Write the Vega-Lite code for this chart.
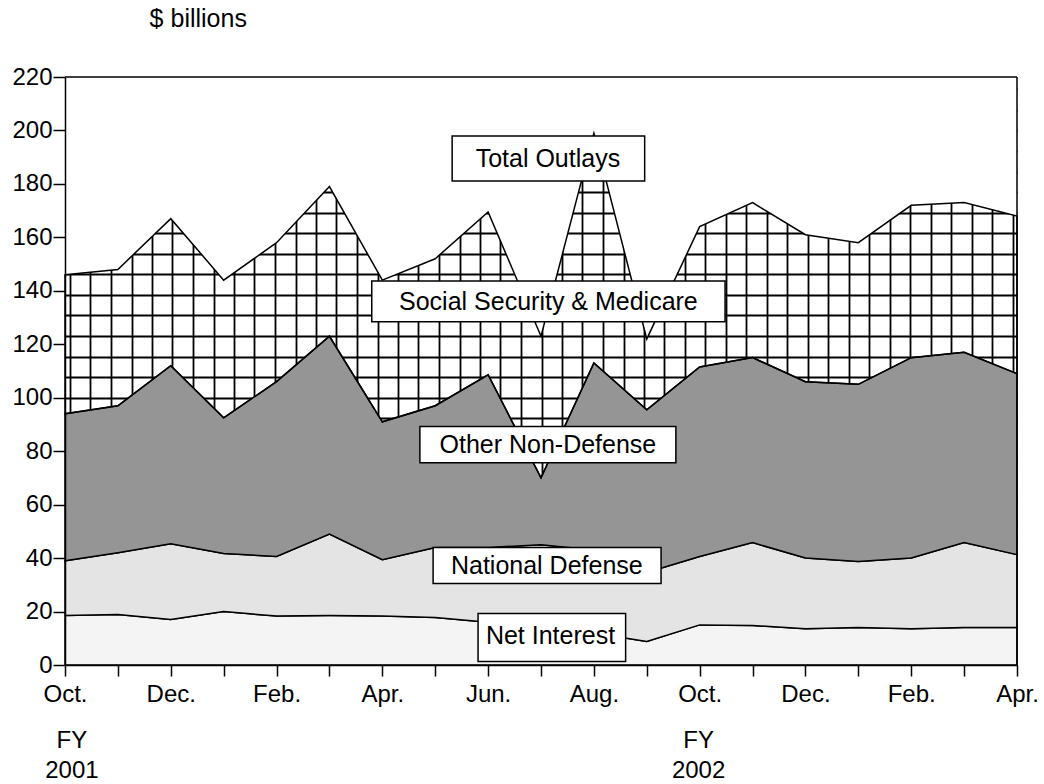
{
  "$schema": "https://vega.github.io/schema/vega-lite/v6.json",
  "width": 952,
  "height": 588,
  "autosize": {"type": "none"},
  "padding": {"left": 65, "top": 77, "right": 27, "bottom": 119},
  "background": "white",
  "config": {
    "view": {"stroke": null},
    "font": "Liberation Sans",
    "axis": {"labelFont": "Liberation Sans", "labelColor": "black", "tickColor": "black", "domainColor": "black", "titleColor": "black"},
    "text": {"font": "Liberation Sans", "color": "black"}
  },
  "data": {
    "values": [
      {"month": "Oct 2000", "m": 0, "Net Interest": 18.5, "National Defense": 20.5, "Other Non-Defense": 55, "Social Security & Medicare": 52},
      {"month": "Nov 2000", "m": 1, "Net Interest": 18.9, "National Defense": 23.1, "Other Non-Defense": 55, "Social Security & Medicare": 51},
      {"month": "Dec 2000", "m": 2, "Net Interest": 17, "National Defense": 28.4, "Other Non-Defense": 66.6, "Social Security & Medicare": 55},
      {"month": "Jan 2001", "m": 3, "Net Interest": 20, "National Defense": 21.7, "Other Non-Defense": 50.8, "Social Security & Medicare": 51.5},
      {"month": "Feb 2001", "m": 4, "Net Interest": 18.3, "National Defense": 22.3, "Other Non-Defense": 65.4, "Social Security & Medicare": 52},
      {"month": "Mar 2001", "m": 5, "Net Interest": 18.5, "National Defense": 30.5, "Other Non-Defense": 74, "Social Security & Medicare": 56},
      {"month": "Apr 2001", "m": 6, "Net Interest": 18.3, "National Defense": 21.1, "Other Non-Defense": 51.6, "Social Security & Medicare": 53},
      {"month": "May 2001", "m": 7, "Net Interest": 17.8, "National Defense": 26.2, "Other Non-Defense": 53, "Social Security & Medicare": 55},
      {"month": "Jun 2001", "m": 8, "Net Interest": 16, "National Defense": 28, "Other Non-Defense": 64.6, "Social Security & Medicare": 60.9},
      {"month": "Jul 2001", "m": 9, "Net Interest": 14, "National Defense": 31, "Other Non-Defense": 25, "Social Security & Medicare": 53},
      {"month": "Aug 2001", "m": 10, "Net Interest": 12, "National Defense": 31, "Other Non-Defense": 70, "Social Security & Medicare": 86},
      {"month": "Sep 2001", "m": 11, "Net Interest": 8.8, "National Defense": 25.8, "Other Non-Defense": 60.9, "Social Security & Medicare": 26.5},
      {"month": "Oct 2001", "m": 12, "Net Interest": 15, "National Defense": 25.6, "Other Non-Defense": 70.9, "Social Security & Medicare": 52.5},
      {"month": "Nov 2001", "m": 13, "Net Interest": 14.8, "National Defense": 31, "Other Non-Defense": 69.2, "Social Security & Medicare": 58},
      {"month": "Dec 2001", "m": 14, "Net Interest": 13.6, "National Defense": 26.4, "Other Non-Defense": 66, "Social Security & Medicare": 55},
      {"month": "Jan 2002", "m": 15, "Net Interest": 14, "National Defense": 24.7, "Other Non-Defense": 66.3, "Social Security & Medicare": 53},
      {"month": "Feb 2002", "m": 16, "Net Interest": 13.6, "National Defense": 26.4, "Other Non-Defense": 75, "Social Security & Medicare": 57},
      {"month": "Mar 2002", "m": 17, "Net Interest": 14, "National Defense": 31.8, "Other Non-Defense": 71.2, "Social Security & Medicare": 56},
      {"month": "Apr 2002", "m": 18, "Net Interest": 14, "National Defense": 27.3, "Other Non-Defense": 67.7, "Social Security & Medicare": 59}
    ]
  },
  "transform": [
    {"fold": ["Net Interest", "National Defense", "Other Non-Defense", "Social Security & Medicare"], "as": ["series", "value"]},
    {"window": [{"op": "row_number", "as": "layerOrder"}], "groupby": ["m"]}
  ],
  "resolve": {"axis": {"x": "independent", "y": "independent"}},
  "layer": [
    {
      "transform": [{"aggregate": [{"op": "sum", "field": "value", "as": "total"}], "groupby": ["m"]}],
      "mark": {"type": "area", "fill": "white", "orient": "vertical"},
      "encoding": {
        "x": {"field": "m", "type": "quantitative", "scale": {"domain": [0, 18], "nice": false, "zero": false},
          "axis": {"orient": "top", "grid": true, "gridColor": "black", "gridWidth": 1.8, "gridOpacity": 1, "labels": false, "ticks": false, "domain": false, "title": null,
            "values": [0.1, 0.48, 0.87, 1.26, 1.65, 2.03, 2.42, 2.81, 3.2, 3.58, 3.97, 4.36, 4.75, 5.13, 5.52, 5.91, 6.3, 6.68, 7.07, 7.46, 7.85, 8.23, 8.62, 9.01, 9.4, 9.78, 10.17, 10.56, 10.95, 11.33, 11.72, 12.11, 12.5, 12.88, 13.27, 13.66, 14.05, 14.43, 14.82, 15.21, 15.6, 15.98, 16.37, 16.76, 17.15, 17.53, 17.92]}},
        "y": {"field": "total", "type": "quantitative", "scale": {"domain": [0, 220], "nice": false},
          "axis": {"orient": "right", "grid": true, "gridColor": "black", "gridWidth": 1.8, "gridOpacity": 1, "labels": false, "ticks": false, "domain": false, "title": null,
            "values": [7.69, 15.38, 23.08, 30.77, 38.46, 46.15, 53.85, 61.54, 69.23, 76.92, 84.62, 92.31, 100, 107.69, 115.38, 123.08, 130.77, 138.46, 146.15, 153.85, 161.54, 169.23, 176.92, 184.62, 192.31, 200, 207.69, 215.38]}},
        "y2": {"datum": 220}
      }
    },
    {
      "mark": {"type": "area", "stroke": "black", "strokeWidth": 1.5, "orient": "vertical"},
      "encoding": {
        "x": {"field": "m", "type": "quantitative", "scale": {"domain": [0, 18], "nice": false, "zero": false},
          "axis": {"orient": "bottom", "grid": false, "values": [0, 1, 2, 3, 4, 5, 6, 7, 8, 9, 10, 11, 12, 13, 14, 15, 16, 17, 18],
            "labelExpr": "datum.value % 2 == 0 ? ['Oct.', 'Dec.', 'Feb.', 'Apr.', 'Jun.', 'Aug.'][(datum.value / 2) % 6] : ''",
            "tickSize": 11, "tickWidth": 1.5, "domainWidth": 1.5, "labelFontSize": 24, "labelPadding": 6, "labelFlush": false, "labelOverlap": false, "title": null, "zindex": 1}},
        "y": {"field": "value", "type": "quantitative", "stack": "zero", "scale": {"domain": [0, 220], "nice": false},
          "axis": {"orient": "left", "grid": false, "values": [0, 20, 40, 60, 80, 100, 120, 140, 160, 180, 200, 220],
            "tickSize": 12, "tickWidth": 1.5, "domainWidth": 1.5, "labelFontSize": 24, "labelPadding": 1, "title": null, "zindex": 1}},
        "order": {"field": "layerOrder", "type": "quantitative", "sort": "ascending"},
        "color": {"field": "series", "type": "nominal",
          "scale": {"domain": ["Net Interest", "National Defense", "Other Non-Defense", "Social Security & Medicare"], "range": ["#f4f4f4", "#e4e4e4", "#959595", "transparent"]},
          "legend": null}
      }
    },
    {
      "data": {"values": [{}]},
      "mark": {"type": "rule", "color": "black", "strokeWidth": 1.5},
      "encoding": {"y": {"datum": 220, "axis": null}}
    },
    {
      "data": {"values": [{}]},
      "mark": {"type": "rule", "color": "black", "strokeWidth": 1.5},
      "encoding": {"x": {"datum": 18, "axis": null}}
    },
    {
      "data": {"values": [{}]},
      "mark": {"type": "rect", "fill": "white", "stroke": "black", "strokeWidth": 1.5},
      "encoding": {"x": {"datum": 7.32, "axis": null}, "x2": {"datum": 10.96}, "y": {"datum": 181.1, "axis": null}, "y2": {"datum": 197.9}}
    },
    {
      "data": {"values": [{}]},
      "mark": {"type": "text", "text": "Total Outlays", "fontSize": 25, "align": "center", "baseline": "middle"},
      "encoding": {"x": {"datum": 9.13, "axis": null}, "y": {"datum": 189.5, "axis": null}}
    },
    {
      "data": {"values": [{}]},
      "mark": {"type": "rect", "fill": "white", "stroke": "black", "strokeWidth": 1.5},
      "encoding": {"x": {"datum": 5.8, "axis": null}, "x2": {"datum": 12.48}, "y": {"datum": 128.4, "axis": null}, "y2": {"datum": 143.7}}
    },
    {
      "data": {"values": [{}]},
      "mark": {"type": "text", "text": "Social Security & Medicare", "fontSize": 25, "align": "center", "baseline": "middle"},
      "encoding": {"x": {"datum": 9.14, "axis": null}, "y": {"datum": 136, "axis": null}}
    },
    {
      "data": {"values": [{}]},
      "mark": {"type": "rect", "fill": "white", "stroke": "black", "strokeWidth": 1.5},
      "encoding": {"x": {"datum": 6.71, "axis": null}, "x2": {"datum": 11.55}, "y": {"datum": 75.7, "axis": null}, "y2": {"datum": 89.2}}
    },
    {
      "data": {"values": [{}]},
      "mark": {"type": "text", "text": "Other Non-Defense", "fontSize": 25, "align": "center", "baseline": "middle"},
      "encoding": {"x": {"datum": 9.13, "axis": null}, "y": {"datum": 82.4, "axis": null}}
    },
    {
      "data": {"values": [{}]},
      "mark": {"type": "rect", "fill": "white", "stroke": "black", "strokeWidth": 1.5},
      "encoding": {"x": {"datum": 6.96, "axis": null}, "x2": {"datum": 11.27}, "y": {"datum": 30.5, "axis": null}, "y2": {"datum": 44}}
    },
    {
      "data": {"values": [{}]},
      "mark": {"type": "text", "text": "National Defense", "fontSize": 25, "align": "center", "baseline": "middle"},
      "encoding": {"x": {"datum": 9.11, "axis": null}, "y": {"datum": 37.2, "axis": null}}
    },
    {
      "data": {"values": [{}]},
      "mark": {"type": "rect", "fill": "white", "stroke": "black", "strokeWidth": 1.5},
      "encoding": {"x": {"datum": 7.81, "axis": null}, "x2": {"datum": 10.6}, "y": {"datum": 1.3, "axis": null}, "y2": {"datum": 19.3}}
    },
    {
      "data": {"values": [{}]},
      "mark": {"type": "text", "text": "Net Interest", "fontSize": 25, "align": "center", "baseline": "middle"},
      "encoding": {"x": {"datum": 9.18, "axis": null}, "y": {"datum": 11, "axis": null}}
    },
    {
      "data": {"values": [{}]},
      "mark": {"type": "text", "text": "$ billions", "fontSize": 25, "align": "left", "baseline": "alphabetic"},
      "encoding": {"x": {"datum": 1.6, "axis": null}, "y": {"datum": 238.7, "axis": null}}
    },
    {
      "data": {"values": [{}]},
      "mark": {"type": "text", "text": ["FY", "2001"], "lineHeight": 30, "fontSize": 24, "align": "center", "baseline": "alphabetic"},
      "encoding": {"x": {"datum": 0.13, "axis": null}, "y": {"datum": -30.9, "axis": null}}
    },
    {
      "data": {"values": [{}]},
      "mark": {"type": "text", "text": ["FY", "2002"], "lineHeight": 30, "fontSize": 24, "align": "center", "baseline": "alphabetic"},
      "encoding": {"x": {"datum": 11.98, "axis": null}, "y": {"datum": -30.9, "axis": null}}
    }
  ]
}
